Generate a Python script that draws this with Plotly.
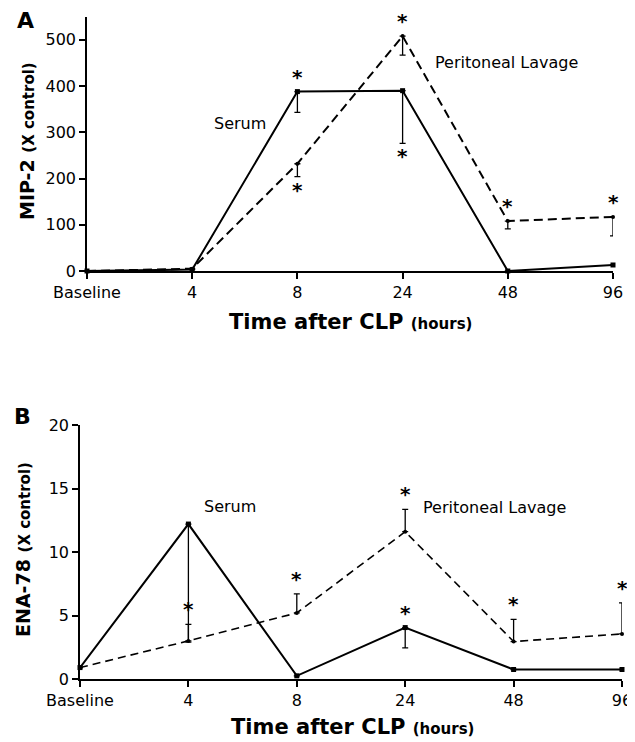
import plotly.graph_objects as go

categories = ["Baseline", "4", "8", "24", "48", "96"]

# Panel A: MIP-2 (X control)
a_serum = [0, 3, 388, 390, 0, 13]
a_serum_err_down = [0, 0, 45, 114, 0, 0]
a_serum_sig = ["", "", "above", "below", "", ""]
a_lavage = [0, 5, 232, 508, 108, 117]
a_lavage_err_down = [0, 0, 28, 41, 17, 41]
a_lavage_sig = ["", "", "below", "above", "above", "above"]
a_ticks = [0, 100, 200, 300, 400, 500]

# Panel B: ENA-78 (X control)
b_serum = [0.9, 12.2, 0.25, 4.05, 0.75, 0.75]
b_serum_err_down = [0, 9.3, 0, 1.6, 0, 0]
b_serum_sig = ["", "", "", "above", "", ""]
b_lavage = [0.9, 3.0, 5.2, 11.6, 2.95, 3.55]
b_lavage_err_up = [0, 1.3, 1.5, 1.75, 1.75, 2.45]
b_lavage_sig = ["", "above", "above", "above", "above", "above"]
b_ticks = [0, 5, 10, 15, 20]

xs = list(range(len(categories)))
FONT = "DejaVu Sans, Liberation Sans, Arial, sans-serif"

W, H, OFF = 627, 734, 8


def px(x):
    return (x - OFF) / W


def py(y):
    return 1 - (y - OFF) / H


fig = go.Figure()


def add_series(vals, up, down, dash, symbol, msize, width, xa, ya):
    fig.add_trace(go.Scatter(
        x=xs, y=vals, mode="lines+markers",
        line=dict(color="black", width=width, dash=dash),
        marker=dict(symbol=symbol, size=msize, color="black"),
        error_y=dict(type="data", symmetric=False, array=up, arrayminus=down,
                     color="black", thickness=1.3, width=3),
        xaxis=xa, yaxis=ya, cliponaxis=False, showlegend=False,
    ))


zeros = [0] * len(categories)
add_series(a_serum, zeros, a_serum_err_down, "solid", "square", 5, 2, "x", "y")
add_series(a_lavage, zeros, a_lavage_err_down, "9px,5px", "circle", 4, 2, "x", "y")
add_series(b_serum, zeros, b_serum_err_down, "solid", "square", 5, 2, "x2", "y2")
add_series(b_lavage, b_lavage_err_up, zeros, "8px,5px", "circle", 4, 1.6, "x2", "y2")

annotations = []
star_font = dict(size=20, family=FONT, color="black")


def add_stars(vals, up, down, sig, xref, yref):
    for i, s in enumerate(sig):
        if s == "above":
            annotations.append(dict(x=xs[i], y=vals[i] + up[i], xref=xref, yref=yref,
                                    text="<b>*</b>", showarrow=False, yanchor="middle",
                                    xanchor="center", yshift=15, font=star_font))
        elif s == "below":
            annotations.append(dict(x=xs[i], y=vals[i] - down[i], xref=xref, yref=yref,
                                    text="<b>*</b>", showarrow=False, yanchor="middle",
                                    xanchor="center", yshift=-13, font=star_font))


add_stars(a_serum, zeros, a_serum_err_down, a_serum_sig, "x", "y")
add_stars(a_lavage, zeros, a_lavage_err_down, a_lavage_sig, "x", "y")
add_stars(b_serum, zeros, b_serum_err_down, b_serum_sig, "x2", "y2")
add_stars(b_lavage, b_lavage_err_up, zeros, b_lavage_sig, "x2", "y2")

lab_font = dict(size=16, family=FONT, color="black")
xtitle = "<b>Time after CLP <span style='font-size:15px'>(hours)</span></b>"


def paper_text(x, y, text, size, angle=0):
    return dict(x=px(x), y=py(y), xref="paper", yref="paper", text=text, showarrow=False,
                xanchor="center", yanchor="middle", textangle=angle,
                font=dict(size=size, family=FONT, color="black"))


annotations += [
    dict(x=1.45, y=320, xref="x", yref="y", text="Serum", showarrow=False, font=lab_font),
    dict(x=3.99, y=450, xref="x", yref="y", text="Peritoneal Lavage", showarrow=False, font=lab_font),
    dict(x=1.38, y=13.6, xref="x2", yref="y2", text="Serum", showarrow=False, font=lab_font),
    dict(x=3.82, y=13.5, xref="x2", yref="y2", text="Peritoneal Lavage", showarrow=False, font=lab_font),
    paper_text(25, 20, "<b>A</b>", 22),
    paper_text(22, 416, "<b>B</b>", 22),
    paper_text(350, 322, xtitle, 21),
    paper_text(352, 727, xtitle, 21),
    paper_text(27, 141, "<b>MIP-2 <span style='font-size:15px'>(X control)</span></b>", 19, -90),
    paper_text(23, 550, "<b>ENA-78 <span style='font-size:15px'>(X control)</span></b>", 19, -90),
]

axis_common = dict(showline=True, linecolor="black", linewidth=1.6, ticks="outside",
                   ticklen=6, tickcolor="black", tickwidth=1.5, showgrid=False,
                   zeroline=False, automargin=False, ticklabeloverflow="allow",
                   tickfont=dict(size=16, family=FONT, color="black"))

fig.update_layout(
    width=W, height=H,
    margin=dict(l=0, r=0, t=0, b=0),
    paper_bgcolor="white", plot_bgcolor="white",
    font=dict(family=FONT, color="black"),
    annotations=annotations,
    xaxis=dict(domain=[px(87), px(613)], range=[0, 5], tickvals=xs, ticktext=categories,
               anchor="y", **axis_common),
    yaxis=dict(domain=[py(271), py(16.7)], range=[0, 550], tickvals=a_ticks,
               anchor="x", **axis_common),
    xaxis2=dict(domain=[px(80), px(622)], range=[0, 5], tickvals=xs, ticktext=categories,
                anchor="y2", **axis_common),
    yaxis2=dict(domain=[py(679), py(425)], range=[0, 20], tickvals=b_ticks,
                anchor="x2", **axis_common),
)

fig.write_html("out.html")
